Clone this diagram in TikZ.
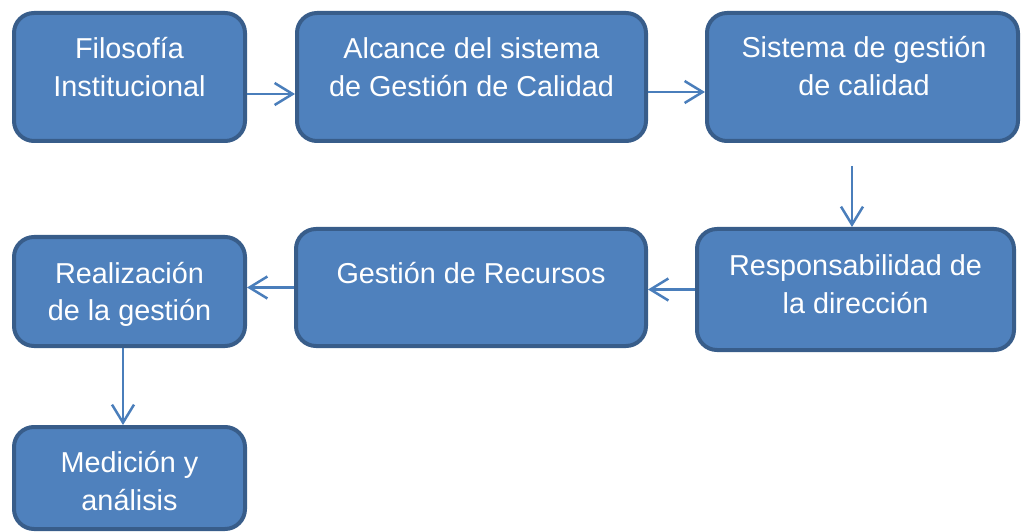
\documentclass[tikz,border=0pt]{standalone}
\usepackage{fontspec}
\setmainfont{Liberation Sans}
\usetikzlibrary{arrows.meta}
\definecolor{boxfill}{HTML}{4F81BD}
\definecolor{boxline}{HTML}{385D8A}
\definecolor{arrowcol}{HTML}{4A7EBB}
\begin{document}
\begin{tikzpicture}[x=1pt,y=-1pt,
  stagebox/.style={draw=boxline, fill=boxfill, line width=4pt, rounded corners=20pt, inner sep=0pt},
  boxtext/.style={anchor=base, inner sep=0pt, text=white, font=\fontsize{28.8}{38}\selectfont},
  flow/.style={draw=arrowcol, line width=2.5pt, -{Straight Barb[length=18pt,width=22pt]}}
]
\useasboundingbox (0,0) rectangle (1021,532);
% boxes
\node[stagebox, minimum width=231pt, minimum height=128pt] (b1) at (129.5,77) {};
\node[stagebox, minimum width=349pt, minimum height=128pt] (b2) at (471.5,77) {};
\node[stagebox, minimum width=311pt, minimum height=128pt] (b3) at (862.5,77) {};
\node[stagebox, minimum width=317pt, minimum height=121pt] (b4) at (855.5,289.5) {};
\node[stagebox, minimum width=350pt, minimum height=117pt] (b5) at (471,287.5) {};
\node[stagebox, minimum width=231pt, minimum height=109pt] (b6) at (129.5,291.5) {};
\node[stagebox, minimum width=231pt, minimum height=102pt] (b7) at (129.5,478) {};
% texts
\node[boxtext] (l1) at (129.5,59) {\begin{tabular}[t]{@{}c@{}}Filosofía\\Institucional\end{tabular}};
\node[boxtext] (l2) at (471.5,59) {\begin{tabular}[t]{@{}c@{}}Alcance del sistema\\de Gestión de Calidad\end{tabular}};
\node[boxtext] (l3) at (864,58) {\begin{tabular}[t]{@{}c@{}}Sistema de gestión\\de calidad\end{tabular}};
\node[boxtext] (l4) at (855.5,275) {\begin{tabular}[t]{@{}c@{}}Responsabilidad de\\la dirección\end{tabular}};
\node[boxtext] (l5) at (471,283) {Gestión de Recursos};
\node[boxtext] (l6) at (129.5,283) {\begin{tabular}[t]{@{}c@{}}Realización\\de la gestión\end{tabular}};
\node[boxtext] (l7) at (129.5,472) {\begin{tabular}[t]{@{}c@{}}Medición y\\análisis\end{tabular}};
% connectors
\coordinate (a3start) at (852,166);
\draw[flow] ([yshift=-17pt]b1.east) -- ([yshift=-17pt]b2.west);
\draw[flow] ([yshift=-15pt]b2.east) -- ([yshift=-15pt]b3.west);
\draw[flow] (a3start) -- (a3start |- b4.north);
\draw[flow] (b4.west) -- (b4.west -| b5.east);
\draw[flow] (b5.west) -- (b5.west -| b6.east);
\draw[flow] ([xshift=-6.5pt]b6.south) -- ([xshift=-6.5pt]b7.north);
\end{tikzpicture}
\end{document}
